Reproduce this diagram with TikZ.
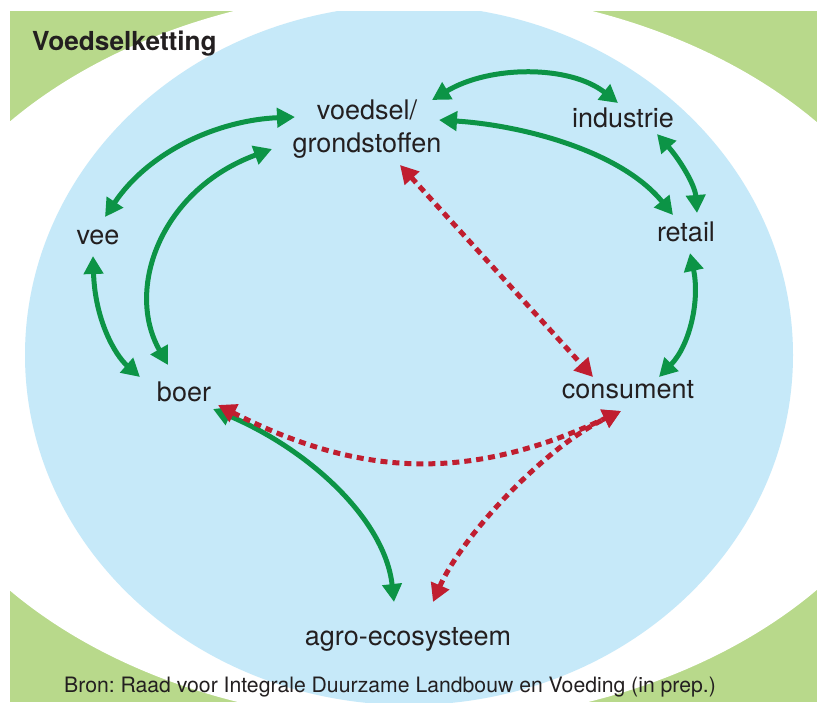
\documentclass[tikz,border=0pt]{standalone}
\usepackage{fontspec}
\setmainfont{TeX Gyre Heros}
\usetikzlibrary{arrows.meta}
\definecolor{bggreen}{RGB}{184,217,139}
\definecolor{bgblue}{RGB}{198,233,249}
\definecolor{arrgreen}{RGB}{12,148,70}
\definecolor{arrred}{RGB}{192,30,48}
\definecolor{txt}{RGB}{35,31,32}
\frenchspacing
\begin{document}
\begin{tikzpicture}[x=1pt,y=-1pt,
  lbl/.style={font=\fontsize{27}{33}\selectfont, text=txt, inner sep=0pt, anchor=base, align=center},
  titlelbl/.style={font=\bfseries\fontsize{26.2}{30}\selectfont, text=txt, inner sep=0pt, anchor=base west},
  srclbl/.style={font=\fontsize{21.2}{25}\selectfont, text=txt, inner sep=0pt, anchor=base west},
  tipg/.tip={Triangle[length=18pt,width=19pt]},
  garrow/.style={draw=arrgreen, line width=5pt, tipg-tipg},
  rarrow/.style={draw=arrred, line width=5pt, dash pattern=on 7pt off 5pt, tipg-tipg}]
\useasboundingbox (0,0) rectangle (817,702);
\begin{scope}
  \clip (10,11) rectangle (817,702);
  \fill[bggreen] (10,11) rectangle (817,702);
  \fill[white] (413,356) ellipse [x radius=524pt, y radius=367pt];
  \fill[bgblue] (409,355) ellipse [x radius=384pt, y radius=350pt];
\end{scope}

% labels
\node[titlelbl] (title) at (32,50) {Voedselketting};
\node[lbl] (voedsel) at (367,152) {voedsel/\\grondstoffen};
\node[lbl] (industrie) at (623,127) {industrie};
\node[lbl] (vee) at (98,244) {vee};
\node[lbl] (retail) at (686,241) {retail};
\node[lbl] (boer) at (184,401) {boer};
\node[lbl] (consument) at (628,398) {consument};
\node[lbl] (agro) at (408,645) {agro-ecosysteem};
\node[srclbl] (bron) at (64,692) {Bron: Raad voor Integrale Duurzame Landbouw en Voeding (in prep.)};

% connector end points
\coordinate (vee-ne) at (105,217);
\coordinate (vee-s) at (93,256);
\coordinate (voedsel-w1) at (295,117);
\coordinate (voedsel-w2) at (272,149);
\coordinate (voedsel-e1) at (432,100);
\coordinate (voedsel-e2) at (439,120);
\coordinate (voedsel-s) at (400,165);
\coordinate (industrie-n) at (618,103);
\coordinate (industrie-s) at (657,134);
\coordinate (retail-nw) at (673,215);
\coordinate (retail-n) at (697,213);
\coordinate (retail-s) at (690,253);
\coordinate (boer-nw) at (140,377);
\coordinate (boer-n) at (168,365);
\coordinate (boer-se) at (213,409);
\coordinate (boer-e) at (218,405);
\coordinate (cons-ne) at (659,377);
\coordinate (cons-nw) at (593,377);
\coordinate (cons-s) at (621,411);
\coordinate (agro-n1) at (394,602);
\coordinate (agro-n2) at (433,602);

% green connectors
\draw[garrow] (vee-ne) .. controls (150,150) and (220,120) .. (voedsel-w1);
\draw[garrow] (boer-n) .. controls (125,290) and (160,190) .. (voedsel-w2);
\draw[garrow] (vee-s) .. controls (95,320) and (115,355) .. (boer-nw);
\draw[garrow] (voedsel-e1) .. controls (490,65) and (570,65) .. (industrie-n);
\draw[garrow] (voedsel-e2) .. controls (520,125) and (620,150) .. (retail-nw);
\draw[garrow] (industrie-s) .. controls (680,160) and (695,185) .. (retail-n);
\draw[garrow] (retail-s) .. controls (700,300) and (690,345) .. (cons-ne);
\draw[garrow] (boer-se) .. controls (310,450) and (385,520) .. (agro-n1);

% red dashed connectors
\draw[rarrow] (voedsel-s) -- (cons-nw);
\draw[rarrow] (boer-e) .. controls (365,480) and (474,480) .. (cons-s);
\draw[rarrow] (agro-n2) .. controls (460,540) and (540,450) .. (cons-s);
\end{tikzpicture}
\end{document}
